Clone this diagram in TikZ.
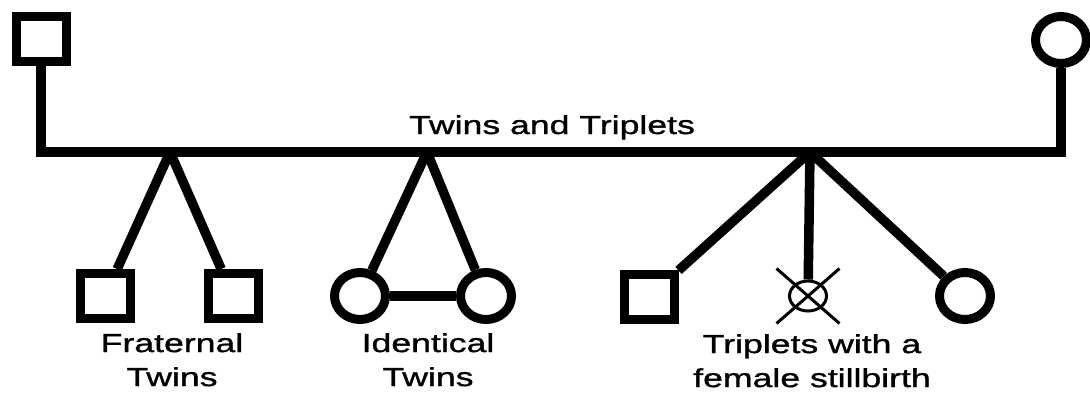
\documentclass[tikz,border=0pt]{standalone}
\usepackage{fontspec}
\setmainfont{Liberation Sans}
\newfontfamily\pedfont[FakeStretch=1.37, FakeBold=1.2]{Liberation Sans}
\usetikzlibrary{shapes.geometric, shapes.misc, positioning}

\begin{document}
\begin{tikzpicture}[
      x=1pt,
      y=-1pt,
      male/.style={
          rectangle,
          draw,
          line width=9pt,
          minimum width=50pt,
          minimum height=45pt,
          inner sep=0pt
        },
      female/.style={
          ellipse,
          draw,
          line width=9pt,
          minimum width=51pt,
          minimum height=47pt,
          inner sep=0pt
        },
      stillborn/.style={
          ellipse,
          draw,
          line width=3pt,
          minimum width=37pt,
          minimum height=30pt,
          inner sep=0pt
        },
      xmark/.style={
          cross out,
          draw,
          line width=3pt,
          minimum width=60pt,
          minimum height=52pt,
          inner sep=0pt
        },
      rel/.style={
          line width=9.5pt
        },
      lbl/.style={
          font=\pedfont\fontsize{26}{34}\selectfont,
          align=center,
          inner sep=0pt
        }
    ]
    \useasboundingbox (0,0) rectangle (1090,396);

    % Parents
    \node[male] (dad) at (41,39) {};
    \node[female] (mom) at (1061,40) {};
    \coordinate (mate) at (552,152);
    \node[lbl, anchor=base] (title) at (552,134) {Twins and Triplets};

    % Sibship points
    \coordinate (frat) at (170,152);
    \coordinate (ident) at (427,152);
    \coordinate (trip) at (810,152);

    % Children
    \node[male] (fr1) at (105,296) {};
    \node[male] (fr2) at (233,296) {};
    \node[female] (id1) at (360,296) {};
    \node[female] (id2) at (486,296) {};
    \node[male] (tr1) at (649,297) {};
    \node[stillborn] (tr2) at (808,296) {};
    \node[xmark] (tr2x) at (tr2) {};
    \node[female] (tr3) at (965,296) {};

    % Labels
    \node[lbl, anchor=north] (fratlbl) at (172,333) {Fraternal\\Twins};
    \node[lbl, anchor=north] (identlbl) at (428,333) {Identical\\Twins};
    \node[lbl, anchor=north] (triplbl) at (812,334) {Triplets with a\\female stillbirth};

    % Lines
    \draw[rel] (dad.south) |- (mate) -| (mom.south);
    \draw[rel] (frat) -- (fr1);
    \draw[rel] (frat) -- (fr2);
    \draw[rel] (ident) -- (id1);
    \draw[rel] (ident) -- (id2);
    \draw[rel] (id1) -- (id2);
    \draw[rel] (trip) -- (tr1);
    \draw[rel] (trip) -- (tr2);
    \draw[rel] (trip) -- (tr3);

  \end{tikzpicture}
\end{document}
